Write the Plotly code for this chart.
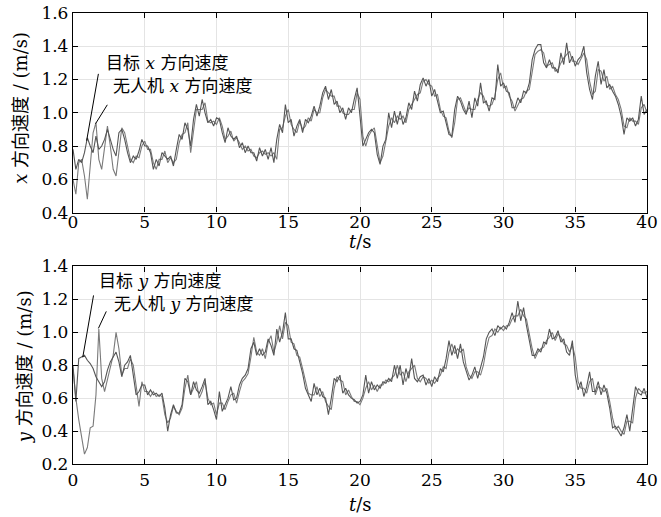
import plotly.graph_objects as go

# time samples (s)
t = [round(0.2 * i, 1) for i in range(201)]

# top: x-direction velocity (m/s)
vx_target = [
    0.78, 0.66, 0.72, 0.70, 0.76, 0.85, 0.80, 0.76, 0.86, 0.78,
    0.80, 0.84, 0.90, 0.84, 0.78, 0.74, 0.88, 0.90, 0.84, 0.76,
    0.70, 0.74, 0.72, 0.77, 0.84, 0.80, 0.80, 0.76, 0.66, 0.72,
    0.68, 0.76, 0.74, 0.72, 0.74, 0.68, 0.78, 0.87, 0.84, 0.94,
    0.90, 0.80, 0.96, 1.05, 0.98, 1.08, 1.00, 0.94, 0.96, 0.92,
    0.97, 0.96, 0.88, 0.82, 0.91, 0.86, 0.84, 0.86, 0.79, 0.82,
    0.76, 0.80, 0.76, 0.76, 0.71, 0.79, 0.74, 0.78, 0.72, 0.79,
    0.70, 0.84, 0.93, 0.88, 1.05, 0.94, 0.96, 0.86, 0.92, 0.96,
    0.88, 0.96, 0.94, 0.98, 1.04, 0.98, 1.04, 1.12, 1.16, 1.08,
    1.14, 1.05, 1.07, 1.00, 1.03, 0.96, 1.03, 1.00, 1.08, 1.15,
    0.98, 0.80, 0.84, 0.88, 0.90, 0.88, 0.75, 0.69, 0.80, 0.84,
    1.00, 0.91, 1.01, 0.93, 1.01, 0.93, 0.97, 1.06, 1.02, 1.13,
    1.07, 1.17, 1.21, 1.16, 1.20, 1.10, 1.14, 1.06, 1.00, 1.01,
    0.93, 0.87, 0.86, 1.02, 1.10, 1.07, 1.02, 0.99, 1.07, 0.97,
    1.09, 1.04, 1.18, 1.06, 1.07, 1.01, 1.09, 1.08, 1.29, 1.16,
    1.18, 1.13, 1.12, 1.03, 1.03, 1.09, 1.06, 1.13, 1.12, 1.18,
    1.32, 1.38, 1.41, 1.41, 1.30, 1.27, 1.32, 1.27, 1.27, 1.24,
    1.36, 1.29, 1.42, 1.30, 1.34, 1.28, 1.32, 1.34, 1.40, 1.24,
    1.14, 1.08, 1.22, 1.31, 1.17, 1.26, 1.15, 1.17, 1.13, 1.10,
    1.05, 0.98, 0.87, 0.97, 0.95, 0.97, 0.92, 0.96, 1.10, 0.99,
    1.02,
]
vx_uav = [
    0.60, 0.51, 0.70, 0.72, 0.62, 0.48, 0.68, 0.88, 0.94, 0.72,
    0.66, 0.78, 0.92, 0.80, 0.66, 0.62, 0.78, 0.91, 0.88, 0.80,
    0.72, 0.70, 0.74, 0.73, 0.80, 0.83, 0.78, 0.78, 0.70, 0.66,
    0.72, 0.72, 0.77, 0.70, 0.73, 0.70, 0.72, 0.82, 0.87, 0.88,
    0.94, 0.76, 0.90, 1.02, 1.02, 1.02, 1.06, 0.95, 0.94, 0.95,
    0.93, 0.97, 0.92, 0.84, 0.86, 0.89, 0.83, 0.85, 0.82, 0.78,
    0.80, 0.77, 0.78, 0.74, 0.73, 0.76, 0.77, 0.75, 0.76, 0.74,
    0.76, 0.72, 0.90, 0.91, 0.98, 1.02, 0.93, 0.90, 0.88, 0.95,
    0.90, 0.92, 0.97, 0.95, 1.02, 1.00, 1.00, 1.09, 1.14, 1.12,
    1.10, 1.10, 1.04, 1.04, 1.00, 0.99, 0.99, 1.02, 1.02, 1.12,
    1.08, 0.86, 0.80, 0.86, 0.89, 0.91, 0.80, 0.70, 0.74, 0.82,
    0.92, 0.97, 0.94, 0.98, 0.96, 0.98, 0.94, 1.02, 1.05, 1.08,
    1.11, 1.12, 1.19, 1.20, 1.17, 1.16, 1.10, 1.11, 1.02, 0.98,
    0.97, 0.89, 0.85, 0.94, 1.08, 1.09, 1.05, 1.00, 1.03, 1.02,
    1.02, 1.08, 1.12, 1.10, 1.05, 1.04, 1.05, 1.10, 1.20, 1.24,
    1.15, 1.16, 1.10, 1.07, 1.01, 1.05, 1.08, 1.09, 1.13, 1.14,
    1.24, 1.35, 1.37, 1.38, 1.36, 1.28, 1.29, 1.30, 1.25, 1.26,
    1.30, 1.33, 1.35, 1.37, 1.31, 1.31, 1.29, 1.33, 1.36, 1.32,
    1.19, 1.11, 1.13, 1.26, 1.25, 1.19, 1.22, 1.14, 1.16, 1.11,
    1.08, 1.02, 0.92, 0.91, 0.97, 0.95, 0.95, 0.93, 1.03, 1.05,
    1.00,
]

# bottom: y-direction velocity (m/s)
vy_target = [
    0.80, 0.58, 0.84, 0.85, 0.86, 0.83, 0.81, 0.78, 0.73, 0.70,
    0.67, 0.70, 0.77, 0.82, 0.85, 0.88, 0.82, 0.73, 0.80, 0.82,
    0.86, 0.74, 0.62, 0.64, 0.68, 0.68, 0.62, 0.65, 0.62, 0.63,
    0.61, 0.63, 0.54, 0.40, 0.50, 0.56, 0.51, 0.51, 0.56, 0.72,
    0.70, 0.62, 0.70, 0.65, 0.63, 0.67, 0.72, 0.56, 0.58, 0.53,
    0.47, 0.64, 0.52, 0.56, 0.60, 0.67, 0.59, 0.60, 0.68, 0.72,
    0.74, 0.78, 0.90, 0.94, 0.86, 0.90, 0.86, 0.88, 0.96, 0.92,
    0.86, 1.02, 0.94, 1.00, 1.12, 0.96, 0.96, 0.90, 0.89, 0.82,
    0.75, 0.66, 0.62, 0.58, 0.69, 0.62, 0.66, 0.61, 0.60, 0.50,
    0.60, 0.72, 0.70, 0.74, 0.63, 0.66, 0.62, 0.60, 0.59, 0.57,
    0.58, 0.62, 0.74, 0.63, 0.70, 0.65, 0.68, 0.66, 0.70, 0.69,
    0.72, 0.70, 0.80, 0.72, 0.80, 0.68, 0.78, 0.72, 0.84, 0.72,
    0.70, 0.73, 0.74, 0.68, 0.72, 0.67, 0.73, 0.70, 0.78, 0.76,
    0.84, 0.95, 0.86, 0.92, 0.84, 0.93, 0.82, 0.76, 0.71, 0.74,
    0.79, 0.72, 0.78, 0.85, 0.96, 1.00, 1.02, 0.98, 1.04, 1.02,
    1.04, 1.02, 1.06, 1.12, 1.06, 1.19, 1.07, 1.15, 1.04, 0.95,
    0.86, 0.86, 0.90, 0.88, 0.94, 0.93, 1.02, 0.96, 0.97, 1.01,
    0.94, 0.96, 0.88, 0.86, 0.95, 0.74, 0.65, 0.70, 0.61, 0.67,
    0.76, 0.64, 0.64, 0.70, 0.62, 0.68, 0.63, 0.54, 0.42, 0.43,
    0.40, 0.37, 0.42, 0.50, 0.40, 0.55, 0.67, 0.63, 0.62, 0.66,
    0.60,
]
vy_uav = [
    0.78, 0.60, 0.47, 0.36, 0.26, 0.30, 0.42, 0.43, 0.62, 1.02,
    0.72, 0.64, 0.72, 0.78, 0.86, 1.00, 0.90, 0.74, 0.78, 0.78,
    0.84, 0.80, 0.66, 0.55, 0.70, 0.64, 0.64, 0.61, 0.64, 0.61,
    0.62, 0.61, 0.50, 0.45, 0.48, 0.55, 0.52, 0.50, 0.54, 0.66,
    0.74, 0.62, 0.66, 0.70, 0.60, 0.64, 0.70, 0.60, 0.56, 0.57,
    0.50, 0.57, 0.57, 0.53, 0.58, 0.62, 0.63, 0.57, 0.64, 0.70,
    0.72, 0.75, 0.85, 0.97, 0.88, 0.86, 0.90, 0.84, 0.94, 0.98,
    0.88, 0.94, 1.04, 0.96, 1.06, 1.04, 0.94, 0.93, 0.86, 0.85,
    0.78, 0.70, 0.63, 0.62, 0.62, 0.67, 0.61, 0.64, 0.58, 0.55,
    0.53, 0.66, 0.73, 0.71, 0.70, 0.62, 0.65, 0.61, 0.58, 0.58,
    0.56, 0.60, 0.66, 0.70, 0.65, 0.68, 0.64, 0.68, 0.68, 0.71,
    0.70, 0.72, 0.74, 0.80, 0.74, 0.76, 0.70, 0.76, 0.78, 0.80,
    0.72, 0.70, 0.73, 0.72, 0.69, 0.71, 0.69, 0.72, 0.74, 0.79,
    0.78, 0.88, 0.93, 0.87, 0.90, 0.88, 0.90, 0.79, 0.74, 0.72,
    0.76, 0.76, 0.74, 0.80, 0.90, 0.97, 0.98, 1.02, 1.00, 1.03,
    1.01, 1.04, 1.04, 1.08, 1.10, 1.10, 1.14, 1.10, 1.08, 0.98,
    0.90, 0.84, 0.88, 0.90, 0.91, 0.95, 0.97, 1.00, 0.95, 0.99,
    0.97, 0.93, 0.92, 0.88, 0.92, 0.85, 0.70, 0.66, 0.66, 0.63,
    0.70, 0.72, 0.62, 0.67, 0.66, 0.64, 0.66, 0.58, 0.48, 0.41,
    0.43, 0.40, 0.38, 0.46, 0.46, 0.45, 0.60, 0.66, 0.64, 0.63,
    0.64,
]

x_ticks = [0, 5, 10, 15, 20, 25, 30, 35, 40]
top_yticks = [0.4, 0.6, 0.8, 1.0, 1.2, 1.4, 1.6]
bot_yticks = [0.2, 0.4, 0.6, 0.8, 1.0, 1.2, 1.4]

FONT = "DejaVu Serif, Noto Sans CJK SC"
C_TARGET = "#555555"
C_UAV = "#7a7a7a"

fig = go.Figure()
fig.add_trace(go.Scatter(x=t, y=vx_uav, mode="lines", line=dict(color=C_UAV, width=1.1),
                         xaxis="x", yaxis="y", name="无人机 x 方向速度"))
fig.add_trace(go.Scatter(x=t, y=vx_target, mode="lines", line=dict(color=C_TARGET, width=1.1),
                         xaxis="x", yaxis="y", name="目标 x 方向速度"))
fig.add_trace(go.Scatter(x=t, y=vy_uav, mode="lines", line=dict(color=C_UAV, width=1.1),
                         xaxis="x2", yaxis="y2", name="无人机 y 方向速度"))
fig.add_trace(go.Scatter(x=t, y=vy_target, mode="lines", line=dict(color=C_TARGET, width=1.1),
                         xaxis="x2", yaxis="y2", name="目标 y 方向速度"))

common = dict(showline=True, linecolor="black", linewidth=1.3, mirror="ticks",
              ticks="inside", ticklen=5, tickcolor="black", showgrid=True,
              gridcolor="#e4e4e4", gridwidth=1, zeroline=False,
              ticklabeloverflow="allow",
              tickfont=dict(family=FONT, size=17, color="black"))

fig.update_layout(
    width=661, height=517,
    margin=dict(l=73, r=3, t=12, b=53),
    paper_bgcolor="white", plot_bgcolor="white",
    showlegend=False,
    font=dict(family=FONT, color="black"),
    xaxis=dict(common, domain=[0, 1], range=[0, 40], tickvals=x_ticks, anchor="y",
               ticklabelstandoff=-6),
    yaxis=dict(common, domain=[0.5575, 1], range=[0.4, 1.6], tickvals=top_yticks,
               tickformat=".1f", anchor="x"),
    xaxis2=dict(common, domain=[0, 1], range=[0, 40], tickvals=x_ticks, anchor="y2"),
    yaxis2=dict(common, domain=[0, 0.438], range=[0.2, 1.4], tickvals=bot_yticks,
                tickformat=".1f", anchor="x2"),
)

# axis titles
title_font = dict(family=FONT, size=18, color="black")
fig.add_annotation(xref="paper", yref="paper", x=0.5, y=0.4934, text="<i>t</i>/s",
                   showarrow=False, xanchor="center", yanchor="middle", font=title_font)
fig.add_annotation(xref="paper", yref="paper", x=0.5, y=-0.0907, text="<i>t</i>/s",
                   showarrow=False, xanchor="center", yanchor="middle", font=title_font)
fig.add_annotation(xref="paper", yref="paper", x=-0.0906, y=0.7898, textangle=-90,
                   text="<i>x</i> 方向速度 / (m/s)",
                   showarrow=False, xanchor="center", yanchor="middle", font=title_font)
fig.add_annotation(xref="paper", yref="paper", x=-0.0855, y=0.2168, textangle=-90,
                   text="<i>y</i> 方向速度 / (m/s)",
                   showarrow=False, xanchor="center", yanchor="middle", font=title_font)

# annotation leader lines
fig.add_shape(type="line", xref="x", yref="y", x0=0.95, y0=0.832, x1=1.77, y1=1.234,
              line=dict(color="black", width=1))
fig.add_shape(type="line", xref="x", yref="y", x0=1.57, y0=0.934, x1=2.39, y1=1.048,
              line=dict(color="black", width=1))
fig.add_shape(type="line", xref="x2", yref="y2", x0=0.68, y0=0.848, x1=1.43, y1=1.224,
              line=dict(color="black", width=1))
fig.add_shape(type="line", xref="x2", yref="y2", x0=1.77, y0=1.024, x1=2.32, y1=1.127,
              line=dict(color="black", width=1))

ann_font = dict(family=FONT, size=17, color="black")
fig.add_annotation(xref="x", yref="y", x=2.18, y=1.30, text="目标 <i>x</i> 方向速度",
                   showarrow=False, xanchor="left", yanchor="middle", font=ann_font)
fig.add_annotation(xref="x", yref="y", x=2.66, y=1.162, text="无人机 <i>x</i> 方向速度",
                   showarrow=False, xanchor="left", yanchor="middle", font=ann_font)
fig.add_annotation(xref="x2", yref="y2", x=1.64, y=1.309, text="目标 <i>y</i> 方向速度",
                   showarrow=False, xanchor="left", yanchor="middle", font=ann_font)
fig.add_annotation(xref="x2", yref="y2", x=2.73, y=1.17, text="无人机 <i>y</i> 方向速度",
                   showarrow=False, xanchor="left", yanchor="middle", font=ann_font)

fig.write_html("out.html")
